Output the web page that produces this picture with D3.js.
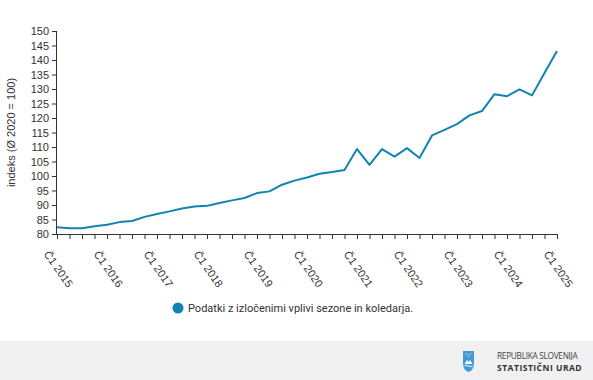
<!DOCTYPE html>
<html>
<head>
<meta charset="utf-8">
<script src="https://cdn.jsdelivr.net/npm/d3@7"></script>
<style>
  body { margin: 0; background: #fff; font-family: "Liberation Sans", Arial, sans-serif; }
  .axis text { fill: #333; font-size: 11px; font-family: "Liberation Sans", Arial, sans-serif; }
  .axis path, .axis line { stroke: #333; }
</style>
</head>
<body>
<div id="chart"></div>
<script>
// quarters Č1 2015 .. Č1 2025
const years = [2015, 2016, 2017, 2018, 2019, 2020, 2021, 2022, 2023, 2024, 2025]
const quarters = [1, 2, 3, 4]
const categories = []
years.forEach(y => quarters.forEach(q => {
  if (y < 2025 || q === 1) categories.push(`Č${q} ${y}`)
}))

const values = [
  82.3, 82.0, 82.0, 82.7, 83.2, 84.1, 84.5, 85.9, 86.9, 87.8,
  88.8, 89.5, 89.7, 90.7, 91.6, 92.4, 94.1, 94.7, 97.0, 98.4,
  99.5, 100.8, 101.4, 102.1, 109.3, 103.8, 109.3, 106.7, 109.6, 106.2,
  114.0, 115.9, 117.9, 120.9, 122.4, 128.2, 127.5, 129.9, 127.8, 135.5,
  143.1
]
const yTicks = d3.range(80, 151, 5)
const yTitle = "indeks (Ø 2020 = 100)"
const seriesName = "Podatki z izločenimi vplivi sezone in koledarja."

const W = 593, H = 380
const MARGIN = { LEFT: 57, RIGHT: 36, TOP: 31, BOTTOM: 146 }
const WIDTH = W - MARGIN.LEFT - MARGIN.RIGHT
const HEIGHT = H - MARGIN.TOP - MARGIN.BOTTOM
const COLOR = "#1283b1"

const svg = d3.select("#chart").append("svg")
  .attr("width", W)
  .attr("height", H)

const g = svg.append("g")
  .attr("transform", `translate(${MARGIN.LEFT}, ${MARGIN.TOP})`)

const x = d3.scalePoint()
  .domain(categories)
  .range([0, WIDTH])

const y = d3.scaleLinear()
  .domain([80, 150])
  .range([HEIGHT, 0])

// y axis
const yAxis = g.append("g")
  .attr("class", "y axis")
  .call(d3.axisLeft(y).tickValues(yTicks).tickSize(5).tickPadding(3))
yAxis.select(".domain").attr("d", `M-0.5,0.5V${HEIGHT + 0.5}`)

g.append("text")
  .attr("transform", `translate(${12 - MARGIN.LEFT + 3}, ${HEIGHT / 2}) rotate(-90)`)
  .attr("text-anchor", "middle")
  .attr("font-size", "11px")
  .attr("fill", "#333")
  .text(yTitle)

// x axis
const xAxis = g.append("g")
  .attr("class", "x axis")
  .attr("transform", `translate(0, ${HEIGHT})`)
  .call(d3.axisBottom(x).tickSize(5).tickSizeOuter(0)
    .tickFormat(d => d.startsWith("Č1") ? d : ""))

xAxis.selectAll(".tick text")
  .attr("text-anchor", "start")
  .attr("dy", "0.35em")
  .attr("y", 0)
  .attr("transform", "translate(-11, 18) rotate(55)")

// line
const line = d3.line()
  .x((d, i) => x(categories[i]))
  .y(d => y(d))

g.append("path")
  .datum(values)
  .attr("fill", "none")
  .attr("stroke", COLOR)
  .attr("stroke-width", 2)
  .attr("stroke-linejoin", "round")
  .attr("d", line)

// legend
const legend = svg.append("g").attr("transform", "translate(178, 308)")
legend.append("circle").attr("r", 5.5).attr("fill", COLOR)
legend.append("text")
  .attr("x", 10)
  .attr("dy", "0.35em")
  .attr("font-size", "11px")
  .attr("font-family", "Roboto, sans-serif")
  .attr("fill", "#333")
  .text(seriesName)

// footer
const footer = svg.append("g").attr("transform", "translate(0, 341)")
footer.append("rect")
  .attr("width", W)
  .attr("height", H - 341)
  .attr("fill", "#f0f0f0")

const logo = footer.append("g").attr("transform", "translate(463, 10)")
logo.append("path")
  .attr("d", "M0,0 H11 V12 Q11,19 5.5,21 Q0,19 0,12 Z")
  .attr("fill", "#3d9bd9")
logo.append("path")
  .attr("d", "M1.5,13 L4,9 L5.5,11 L7,9 L9.5,13 Z")
  .attr("fill", "#fff")
logo.append("path")
  .attr("d", "M1.5,15 Q3,14 5.5,15 Q8,16 9.5,15")
  .attr("stroke", "#fff")
  .attr("fill", "none")
  .attr("stroke-width", 1)
logo.selectAll("circle.star")
  .data([[3.5, 3], [7.5, 3], [5.5, 5]])
  .enter().append("circle")
  .attr("class", "star")
  .attr("cx", d => d[0]).attr("cy", d => d[1]).attr("r", 0.8)
  .attr("fill", "#ffe37a")

footer.append("text")
  .attr("x", 497).attr("y", 18)
  .attr("font-size", "8.3px")
  .attr("fill", "#444")
  .attr("font-family", "'Open Sans', sans-serif")
  .attr("letter-spacing", "-0.3")
  .text("REPUBLIKA SLOVENIJA")
footer.append("text")
  .attr("x", 497).attr("y", 30)
  .attr("font-size", "8.5px")
  .attr("font-weight", "bold")
  .attr("fill", "#333")
  .attr("font-family", "'Open Sans', sans-serif")
  .attr("letter-spacing", "0.5")
  .text("STATISTIČNI URAD")
</script>
</body>
</html>
